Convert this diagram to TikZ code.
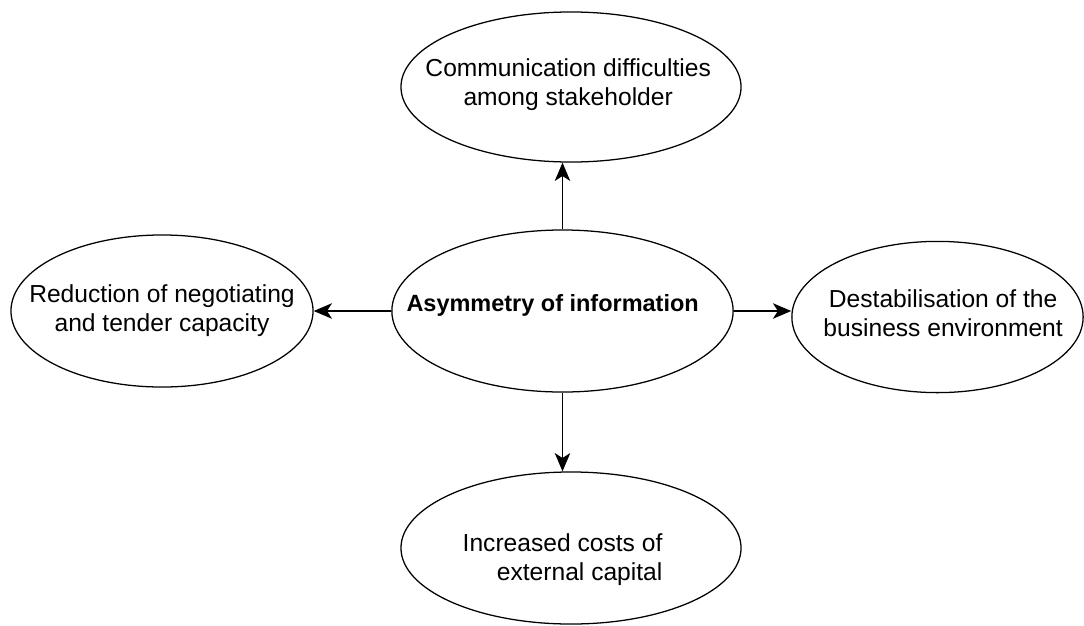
\documentclass[tikz,border=0pt]{standalone}
\usepackage{fontspec}
\setmainfont{Liberation Sans}
\usetikzlibrary{arrows.meta,shapes.geometric}

\begin{document}
\begin{tikzpicture}[x=0.025cm, y=-0.025cm,
    bubble/.style={draw, ellipse, line width=0.9pt, inner sep=0pt},
    says/.style={align=center, font=\fontsize{17.5}{20.6}\selectfont},
    link/.style={-{Stealth[length=13pt, width=11pt, inset=3.5pt]}, line width=0.9pt}]
    \useasboundingbox (0,0) rectangle (1084,625);

    % Central cause
    \node[bubble, minimum width=8.53cm, minimum height=4.05cm,
        label={[says, font=\bfseries\fontsize{16.7}{20.6}\selectfont, xshift=-7pt, yshift=4pt]center:Asymmetry of information}]
        (asym) at (562.5,311) {};

    % Consequences
    \node[bubble, minimum width=8.5cm, minimum height=3.75cm,
        label={[says, xshift=-2pt, yshift=2pt]center:Communication difficulties\\among stakeholder}]
        (comm) at (571,87) {};
    \node[bubble, minimum width=7.55cm, minimum height=3.8cm,
        label={[says]center:Reduction of negotiating\\and tender capacity}]
        (redu) at (162,311) {};
    \node[bubble, minimum width=7.28cm, minimum height=3.78cm,
        label={[says, xshift=4pt, yshift=3pt]center:Destabilisation of the\\business environment}]
        (dest) at (937.5,317) {};
    \node[bubble, minimum width=8.5cm, minimum height=3.8cm,
        label={[says, align=right, xshift=-6pt, yshift=-8pt]center:Increased costs of\\external capital}]
        (cost) at (571,548) {};

    % Arrows
    \draw[link] (asym.north) -- (asym.north |- comm.south);
    \draw[link] (asym.west) -- (asym.west -| redu.east);
    \draw[link] (asym.east) -- (asym.east -| dest.west);
    \draw[link] (asym.south) -- (asym.south |- cost.north);
\end{tikzpicture}
\end{document}
